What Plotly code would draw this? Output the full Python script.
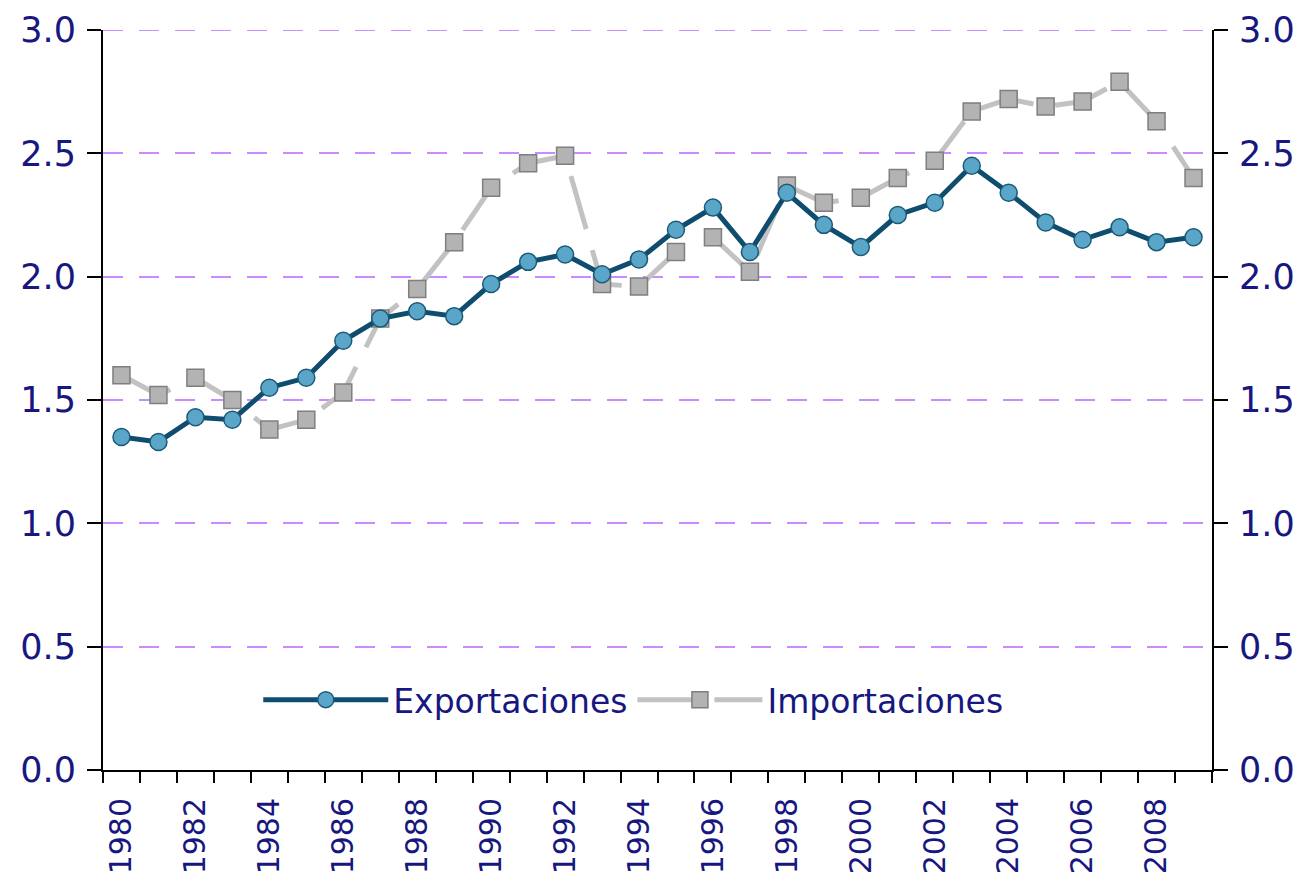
import plotly.graph_objects as go

years = list(range(1980, 2010))

exportaciones = [
    1.35, 1.33, 1.43, 1.42, 1.55, 1.59, 1.74, 1.83, 1.86, 1.84,
    1.97, 2.06, 2.09, 2.01, 2.07, 2.19, 2.28, 2.10, 2.34, 2.21,
    2.12, 2.25, 2.30, 2.45, 2.34, 2.22, 2.15, 2.20, 2.14, 2.16,
]

importaciones = [
    1.60, 1.52, 1.59, 1.50, 1.38, 1.42, 1.53, 1.83, 1.95, 2.14,
    2.36, 2.46, 2.49, 1.97, 1.96, 2.10, 2.16, 2.02, 2.37, 2.30,
    2.32, 2.40, 2.47, 2.67, 2.72, 2.69, 2.71, 2.79, 2.63, 2.40,
]

x_ticks = list(range(1980, 2009, 2))
y_ticks = [0.0, 0.5, 1.0, 1.5, 2.0, 2.5, 3.0]

label_color = "#17177F"
grid_color = "#C98BFF"
font_family = "DejaVu Sans"

fig = go.Figure()

# Importaciones first so exports draw on top
fig.add_trace(go.Scatter(
    x=years,
    y=importaciones,
    mode="lines+markers",
    name="Importaciones",
    line=dict(color="#C2C2C2", width=5, dash="55px,22px"),
    marker=dict(symbol="square", size=17, color="#B3B3B3",
                line=dict(color="#7F7F7F", width=1.5)),
))

fig.add_trace(go.Scatter(
    x=years,
    y=exportaciones,
    mode="lines+markers",
    name="Exportaciones",
    line=dict(color="#0E4D6E", width=5),
    marker=dict(symbol="circle", size=17, color="#5AA6C9",
                line=dict(color="#1D5A78", width=1.5)),
))

# invisible trace to carry the right-hand axis
fig.add_trace(go.Scatter(
    x=[years[0]], y=[y_ticks[0]], yaxis="y2",
    mode="markers", marker=dict(opacity=0),
    showlegend=False, hoverinfo="skip",
))

# top gridline sits on the plot edge, plotly skips it there
fig.add_hline(y=y_ticks[-1], line=dict(color=grid_color, width=2, dash="20px,16px"),
              layer="below")

axis_common = dict(
    range=[0, 3.0],
    tickmode="array",
    tickvals=y_ticks,
    ticktext=[f"{v:.1f}" for v in y_ticks],
    ticks="outside",
    ticklen=14,
    tickwidth=2,
    tickcolor="black",
    tickfont=dict(size=35, color=label_color),
    ticklabelstandoff=4,
    zeroline=False,
    showline=True,
    linecolor="black",
    linewidth=2,
    automargin=False,
)

fig.update_layout(
    width=1305,
    height=881,
    margin=dict(l=95, r=101, t=22, b=119),
    paper_bgcolor="white",
    plot_bgcolor="white",
    font=dict(family=font_family, color=label_color),
    showlegend=True,
    legend=dict(
        orientation="h",
        x=0.14, y=0.095,
        xanchor="left", yanchor="middle",
        traceorder="reversed",
        font=dict(size=33, color=label_color, family=font_family),
        bgcolor="rgba(0,0,0,0)",
        itemwidth=125,
    ),
    xaxis=dict(
        range=[1979.5, 2009.5],
        tickmode="array",
        tickvals=x_ticks,
        ticktext=[str(v) for v in x_ticks],
        tickangle=-90,
        ticks="",
        tickfont=dict(size=30, color=label_color),
        ticklabelstandoff=14,
        showgrid=False,
        zeroline=False,
        showline=True,
        linecolor="black",
        linewidth=2,
        automargin=False,
        minor=dict(tick0=1979.5, dtick=1, ticks="outside", ticklen=11,
                   tickwidth=2, tickcolor="black", showgrid=False),
    ),
    yaxis=dict(
        **axis_common,
        showgrid=True,
        gridcolor=grid_color,
        gridwidth=2,
        griddash="20px,16px",
    ),
    yaxis2=dict(
        **axis_common,
        overlaying="y",
        side="right",
        showgrid=False,
    ),
)

fig.write_html("out.html")
